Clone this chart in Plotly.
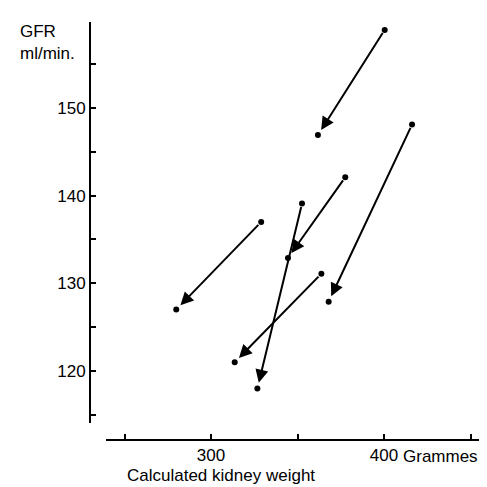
import plotly.graph_objects as go

# kidney weight (g) and GFR (ml/min) before -> after, per subject
weight_before = [400.4, 416.2, 377.6, 352.6, 363.8, 329.0]
gfr_before = [158.9, 148.1, 142.1, 139.1, 131.1, 137.0]
weight_after = [361.8, 368.0, 344.5, 326.8, 313.7, 279.9]
gfr_after = [146.9, 127.9, 132.9, 118.0, 121.0, 127.0]

x_ticks = [250, 300, 350, 400, 450]
x_ticktext = ["", "300", "", "400", ""]
y_ticks = [115, 120, 125, 130, 135, 140, 145, 150, 155]
y_ticktext = ["", "120", "", "130", "", "140", "", "150", ""]

W = H = 487
FONT = "Liberation Sans"

fig = go.Figure()

# dots
fig.add_trace(go.Scatter(
    x=weight_before + weight_after, y=gfr_before + gfr_after,
    mode="markers", marker=dict(color="black", size=6),
    showlegend=False, hoverinfo="skip"))

xr = [239.3, 463.0]
yr = [114.07, 159.8]
xdom = [98 / W, 485 / W]
ydom = [1 - 415 / H, 1 - 14 / H]

# arrows (line shortened before the end dot)
sx = (xdom[1] - xdom[0]) * W / (xr[1] - xr[0])
sy = (ydom[1] - ydom[0]) * H / (yr[1] - yr[0])
for xb, yb, xa, ya in zip(weight_before, gfr_before, weight_after, gfr_after):
    dxp = (xa - xb) * sx
    dyp = (ya - yb) * sy
    L = (dxp ** 2 + dyp ** 2) ** 0.5
    f = (L - 6) / L
    xe = xb + (xa - xb) * f
    ye = yb + (ya - yb) * f
    fig.add_annotation(x=xe, y=ye, ax=xb, ay=yb, xref="x", yref="y",
                       axref="x", ayref="y", text="", showarrow=True,
                       arrowhead=2, arrowsize=1.3, arrowwidth=2,
                       arrowcolor="black", standoff=0, startstandoff=2)

fig.update_layout(
    width=W, height=H, margin=dict(l=0, r=0, t=0, b=0),
    paper_bgcolor="white", plot_bgcolor="white",
    font=dict(family=FONT, size=17, color="black"),
    xaxis=dict(domain=xdom, range=xr, anchor="free", position=1 - 432 / H,
               showline=True, linecolor="black", linewidth=2,
               showgrid=False, zeroline=False,
               tickvals=x_ticks, ticktext=x_ticktext, ticks="inside",
               ticklen=5, tickwidth=1.5, tickcolor="black"),
    yaxis=dict(domain=ydom, range=yr, anchor="free", position=82 / W,
               showline=True, linecolor="black", linewidth=2,
               showgrid=False, zeroline=False,
               tickvals=y_ticks, ticktext=y_ticktext, ticks="inside",
               ticklen=5, tickwidth=1.5, tickcolor="black"),
)

fig.add_annotation(x=393 / W, y=1 - 448 / H, xref="paper", yref="paper",
                   text="Grammes", showarrow=False, xanchor="left",
                   yanchor="middle", font=dict(size=17))
fig.add_annotation(x=118 / W, y=1 - 467 / H, xref="paper", yref="paper",
                   text="Calculated kidney weight", showarrow=False,
                   xanchor="left", yanchor="middle", borderpad=0,
                   font=dict(size=17))
fig.add_annotation(x=10 / W, y=1 - 12 / H, xref="paper", yref="paper",
                   text="GFR<br>ml/min.", showarrow=False, align="left",
                   xanchor="left", yanchor="top", font=dict(size=17))

fig.write_html("out.html")
